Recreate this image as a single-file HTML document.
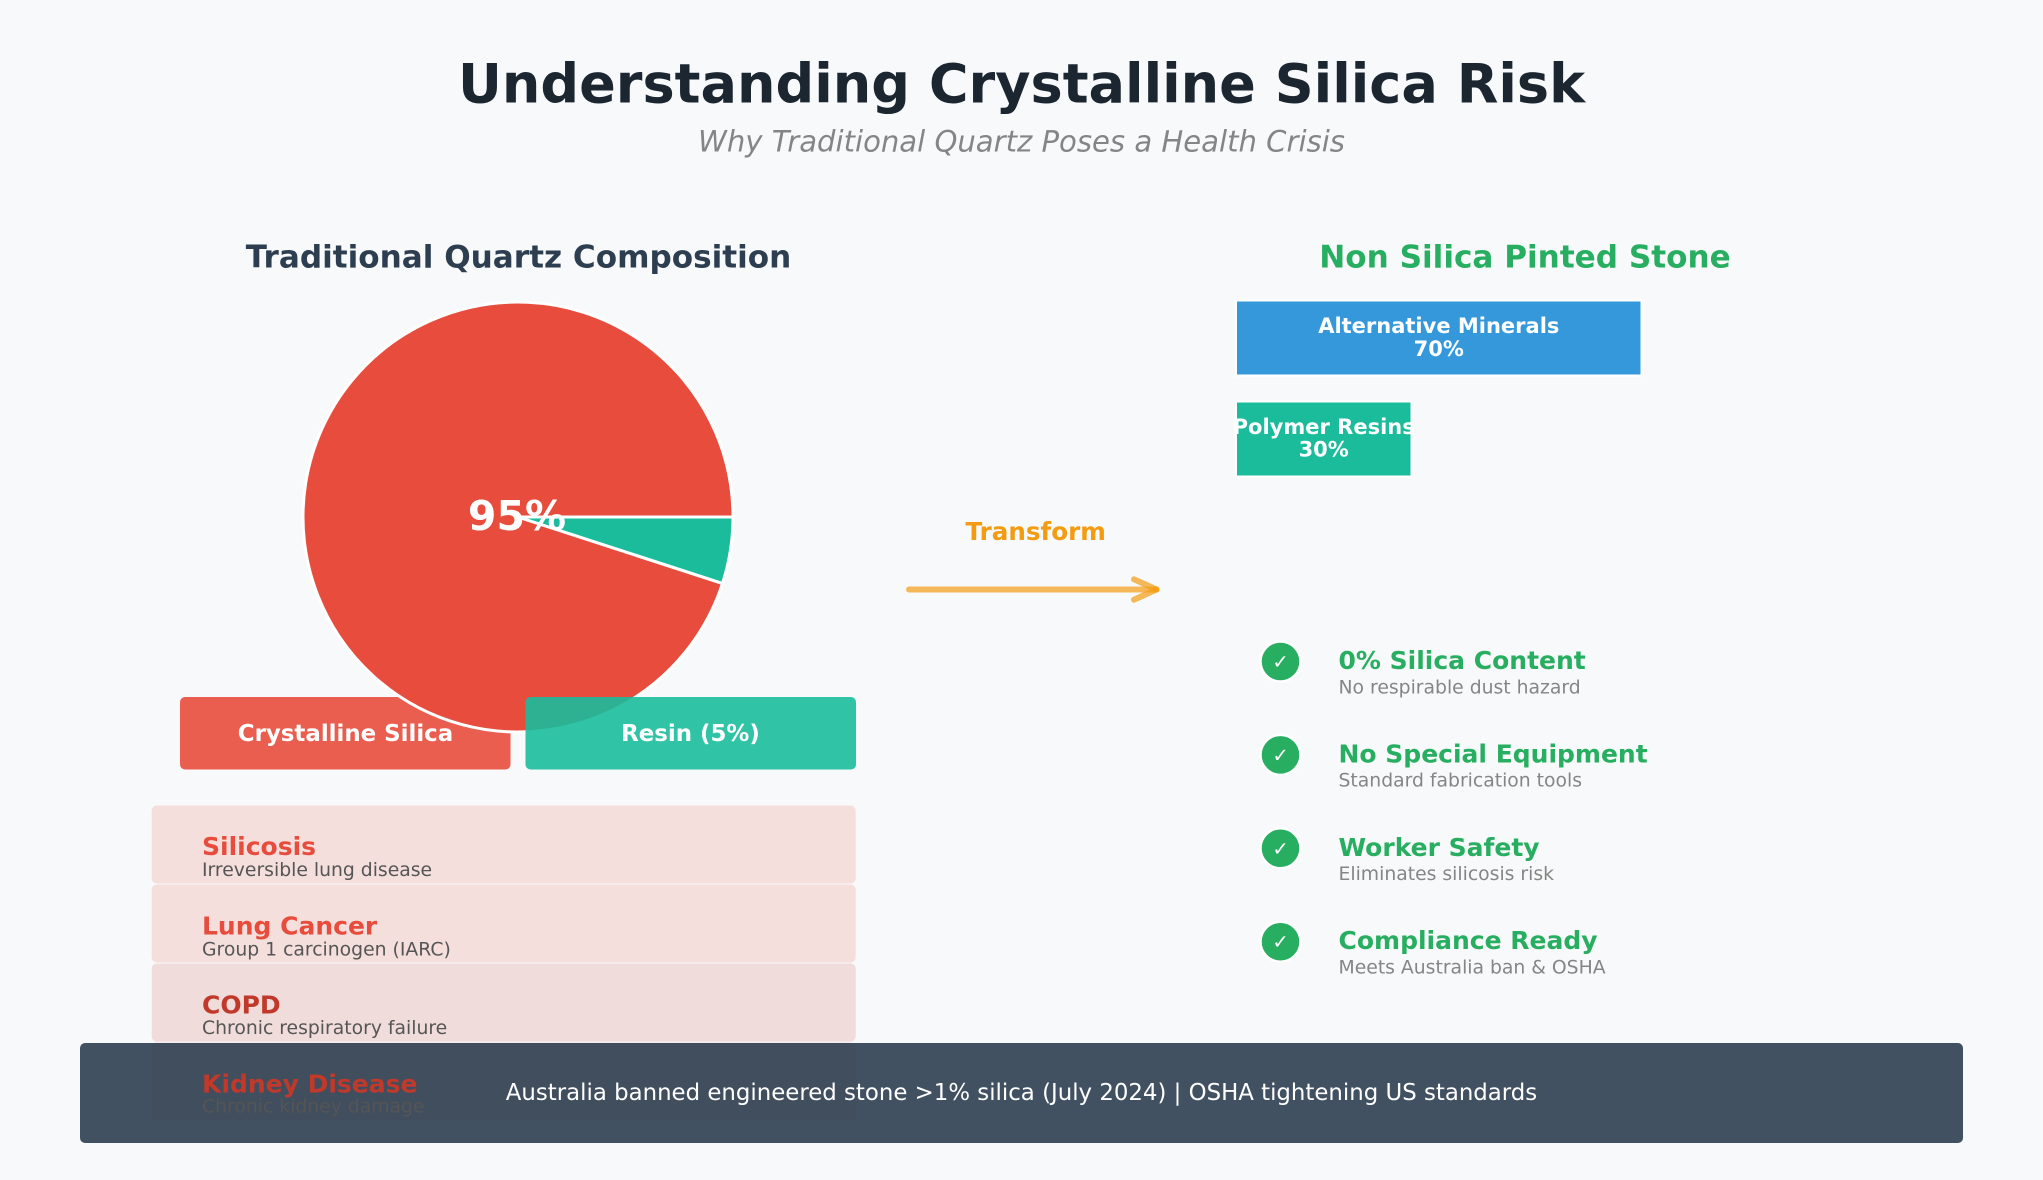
<!DOCTYPE html>
<html><head><meta charset="utf-8">
<style>
html,body{margin:0;padding:0;background:#f8f9fa;}
svg{display:block;}
text{font-family:"DejaVu Sans","Liberation Sans",sans-serif;}
</style></head>
<body>
<svg width="2043" height="1180" viewBox="0 0 2043 1180" xmlns="http://www.w3.org/2000/svg">
<rect x="0" y="0" width="2043" height="1180" fill="#f8f9fa"/>

<!-- Titles -->
<text x="1021.5" y="102.5" text-anchor="middle" font-size="54.1" font-weight="bold" fill="#1b2631">Understanding Crystalline Silica Risk</text>
<text x="1021.5" y="151.5" text-anchor="middle" font-size="29.1" font-style="italic" fill="#858585">Why Traditional Quartz Poses a Health Crisis</text>

<text x="518.5" y="267.5" text-anchor="middle" font-size="31.1" font-weight="bold" fill="#2c3e50">Traditional Quartz Composition</text>
<text x="1525" y="267.5" text-anchor="middle" font-size="31.1" font-weight="bold" fill="#27ae60">Non Silica Pinted Stone</text>

<!-- Legend red box (under pie) -->
<rect x="180" y="697" width="330.5" height="72.5" rx="5" fill="#e74c3c" fill-opacity="0.9"/>

<!-- Pie -->
<path d="M518,517 L722.5,583.4 A215,215 0 1,1 733,517 Z" fill="#e74c3c" stroke="#ffffff" stroke-width="3" stroke-linejoin="round"/>
<path d="M518,517 L733,517 A215,215 0 0,1 722.5,583.4 Z" fill="#1abc9c" stroke="#ffffff" stroke-width="3" stroke-linejoin="round"/>
<text x="517" y="530" text-anchor="middle" font-size="41" font-weight="bold" fill="#ffffff">95%</text>

<!-- Legend teal box (over pie) -->
<rect x="525.5" y="697" width="330.5" height="72.5" rx="5" fill="#1abc9c" fill-opacity="0.9"/>
<text x="345.5" y="741" text-anchor="middle" font-size="22.9" font-weight="bold" fill="#ffffff">Crystalline Silica</text>
<text x="690.5" y="741" text-anchor="middle" font-size="22.9" font-weight="bold" fill="#ffffff">Resin (5%)</text>

<!-- Health boxes -->
<rect x="151.7" y="805.5" width="704" height="78" rx="5" fill="#e74c3c" fill-opacity="0.15"/>
<rect x="151.7" y="884.5" width="704" height="78" rx="5" fill="#e74c3c" fill-opacity="0.15"/>
<rect x="151.7" y="963.5" width="704" height="78" rx="5" fill="#c0392b" fill-opacity="0.15"/>
<rect x="151.7" y="1042.5" width="704" height="78" rx="5" fill="#c0392b" fill-opacity="0.15"/>

<!-- Footer -->
<rect x="80" y="1043" width="1883" height="100" rx="5" fill="#2c3e50" fill-opacity="0.9"/>
<text x="1021.5" y="1100" text-anchor="middle" font-size="22.85" fill="#ffffff">Australia banned engineered stone &gt;1% silica (July 2024) | OSHA tightening US standards</text>

<!-- Health texts -->
<text x="202" y="855" font-size="25" font-weight="bold" fill="#e74c3c">Silicosis</text>
<text x="202" y="876" font-size="18.8" fill="#555555">Irreversible lung disease</text>
<text x="202" y="934.5" font-size="25" font-weight="bold" fill="#e74c3c">Lung Cancer</text>
<text x="202" y="955.3" font-size="18.8" fill="#555555">Group 1 carcinogen (IARC)</text>
<text x="202" y="1013.3" font-size="25" font-weight="bold" fill="#c0392b">COPD</text>
<text x="202" y="1033.8" font-size="18.8" fill="#555555">Chronic respiratory failure</text>
<text x="202" y="1092.3" font-size="25" font-weight="bold" fill="#c0392b">Kidney Disease</text>
<text x="202" y="1112.5" font-size="18.8" fill="#555555">Chronic kidney damage</text>

<!-- Transform arrow -->
<text x="1035.7" y="540" text-anchor="middle" font-size="24.6" font-weight="bold" fill="#f39c12">Transform</text>
<line x1="909" y1="589.5" x2="1156" y2="589.5" stroke="#f39c12" stroke-opacity="0.7" stroke-width="6" stroke-linecap="round"/>
<line x1="1134" y1="579.3" x2="1156.5" y2="589.5" stroke="#f39c12" stroke-opacity="0.7" stroke-width="6" stroke-linecap="round"/>
<line x1="1134" y1="599.7" x2="1156.5" y2="589.5" stroke="#f39c12" stroke-opacity="0.7" stroke-width="6" stroke-linecap="round"/>

<!-- Bars -->
<rect x="1236" y="300.5" width="405.5" height="75" fill="#3498db" stroke="#ffffff" stroke-width="2"/>
<text x="1438.8" y="333" text-anchor="middle" font-size="21" font-weight="bold" fill="#ffffff">Alternative Minerals</text>
<text x="1438.8" y="356" text-anchor="middle" font-size="21" font-weight="bold" fill="#ffffff">70%</text>
<rect x="1236" y="401.5" width="175.5" height="75" fill="#1abc9c" stroke="#ffffff" stroke-width="2"/>
<text x="1323.7" y="434" text-anchor="middle" font-size="21" font-weight="bold" fill="#ffffff">Polymer Resins</text>
<text x="1323.7" y="456.5" text-anchor="middle" font-size="21" font-weight="bold" fill="#ffffff">30%</text>

<!-- Benefits -->
<g>
<circle cx="1280.5" cy="661.5" r="20" fill="#27ae60" stroke="#ffffff" stroke-width="2.5"/>
<text x="1280.5" y="668.5" text-anchor="middle" font-size="19.5" fill="#ffffff">✓</text>
<text x="1338.5" y="669" font-size="25" font-weight="bold" fill="#27ae60">0% Silica Content</text>
<text x="1338.5" y="693.3" font-size="18.8" fill="#858585">No respirable dust hazard</text>

<circle cx="1280.5" cy="754.9" r="20" fill="#27ae60" stroke="#ffffff" stroke-width="2.5"/>
<text x="1280.5" y="761.9" text-anchor="middle" font-size="19.5" fill="#ffffff">✓</text>
<text x="1338.5" y="762.4" font-size="25" font-weight="bold" fill="#27ae60">No Special Equipment</text>
<text x="1338.5" y="786.7" font-size="18.8" fill="#858585">Standard fabrication tools</text>

<circle cx="1280.5" cy="848.3" r="20" fill="#27ae60" stroke="#ffffff" stroke-width="2.5"/>
<text x="1280.5" y="855.3" text-anchor="middle" font-size="19.5" fill="#ffffff">✓</text>
<text x="1338.5" y="855.8" font-size="25" font-weight="bold" fill="#27ae60">Worker Safety</text>
<text x="1338.5" y="880.1" font-size="18.8" fill="#858585">Eliminates silicosis risk</text>

<circle cx="1280.5" cy="941.7" r="20" fill="#27ae60" stroke="#ffffff" stroke-width="2.5"/>
<text x="1280.5" y="948.7" text-anchor="middle" font-size="19.5" fill="#ffffff">✓</text>
<text x="1338.5" y="949.2" font-size="25" font-weight="bold" fill="#27ae60">Compliance Ready</text>
<text x="1338.5" y="973.5" font-size="18.8" fill="#858585">Meets Australia ban &amp; OSHA</text>
</g>
</svg>
</body></html>
